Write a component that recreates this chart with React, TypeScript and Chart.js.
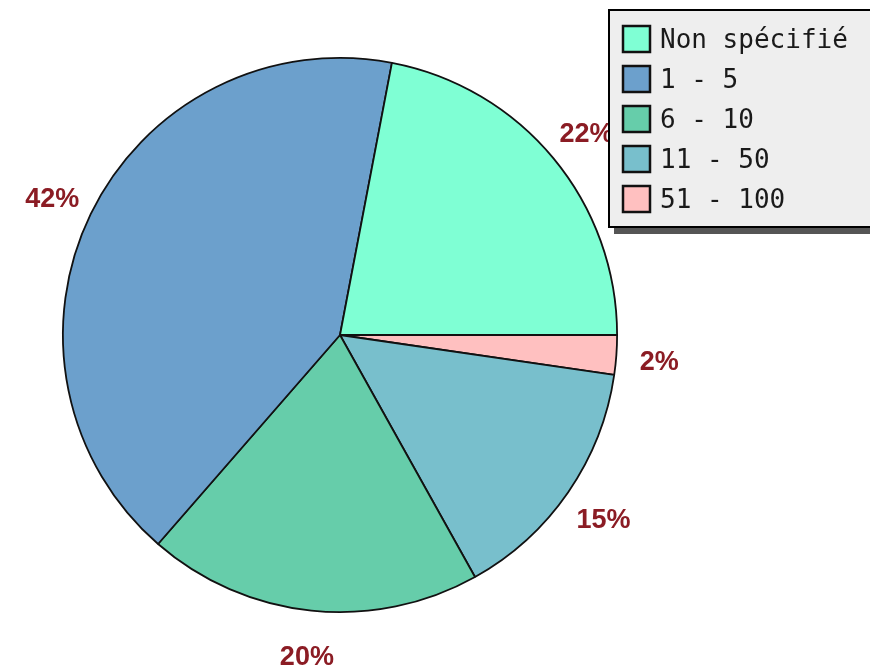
import React, { useEffect, useRef } from "react";
import { Chart, registerables } from "chart.js";

Chart.register(...registerables);

const categories = ["Non spécifié", "1 - 5", "6 - 10", "11 - 50", "51 - 100"];
const values = [22, 41.6, 19.5, 14.6, 2.3];
const colors = ["#7fffd4", "#6ca0cc", "#66cdaa", "#78bfcc", "#ffc0c0"];

const LABEL_COLOR = "#8b1c24";

const outsideLabels = {
  id: "outsideLabels",
  afterDatasetsDraw(chart: any) {
    const ctx = chart.ctx;
    const meta = chart.getDatasetMeta(0);
    const data = chart.data.datasets[0].data as number[];
    const total = data.reduce((a, b) => a + b, 0);
    ctx.save();
    ctx.font = "bold 27px 'Liberation Sans', Arial, sans-serif";
    ctx.fillStyle = LABEL_COLOR;
    ctx.textAlign = "center";
    ctx.textBaseline = "middle";
    meta.data.forEach((arc: any, i: number) => {
      const p = arc.getProps(["startAngle", "endAngle", "x", "y", "outerRadius"], true);
      const mid = (p.startAngle + p.endAngle) / 2;
      const r = p.outerRadius * 1.155;
      const x = p.x + Math.cos(mid) * r;
      const y = p.y + Math.sin(mid) * r + 4;
      const pct = Math.round((data[i] / total) * 100);
      ctx.fillText(pct + "%", x, y);
    });
    ctx.restore();
  },
};

const boxLegend = {
  id: "boxLegend",
  afterDraw(chart: any) {
    const ctx = chart.ctx;
    const left = 608;
    const top = 9;
    const w = 280;
    const h = 219;
    ctx.save();
    ctx.fillStyle = "#555555";
    ctx.fillRect(left + 6, top + 6, w, h);
    ctx.fillStyle = "#eeeeee";
    ctx.fillRect(left, top, w, h);
    ctx.strokeStyle = "#000000";
    ctx.lineWidth = 2;
    ctx.strokeRect(left + 1, top + 1, w, h - 2);
    ctx.font = "26px 'DejaVu Sans Mono', monospace";
    ctx.textAlign = "left";
    ctx.textBaseline = "alphabetic";
    categories.forEach((c, i) => {
      const sy = top + 17 + i * 40;
      ctx.fillStyle = colors[i];
      ctx.fillRect(623, sy, 27, 26);
      ctx.strokeStyle = "#111111";
      ctx.lineWidth = 2.5;
      ctx.strokeRect(623, sy, 27, 26);
      ctx.fillStyle = "#1a1a1a";
      ctx.fillText(c, 660, 48 + i * 40);
    });
    ctx.restore();
  },
};

export default function App() {
  const ref = useRef<HTMLCanvasElement>(null);
  useEffect(() => {
    if (!ref.current) return;
    const rev = <T,>(a: T[]) => a.slice().reverse();
    const chart = new Chart(ref.current, {
      type: "pie",
      data: {
        labels: rev(categories),
        datasets: [
          {
            data: rev(values),
            backgroundColor: rev(colors),
            borderColor: "#111111",
            borderWidth: 1.8,
          },
        ],
      },
      options: {
        animation: false,
        responsive: false,
        devicePixelRatio: 1,
        rotation: 90,
        layout: { padding: { left: 62, right: 252, top: 57, bottom: 53 } },
        plugins: {
          legend: { display: false },
          tooltip: { enabled: false },
        },
      },
      plugins: [outsideLabels, boxLegend],
    });
    return () => chart.destroy();
  }, []);
  return (
    <div style={{ position: "absolute", left: 0, top: 0, width: 870, height: 666, background: "#ffffff" }}>
      <canvas ref={ref} width={870} height={666} />
    </div>
  );
}
